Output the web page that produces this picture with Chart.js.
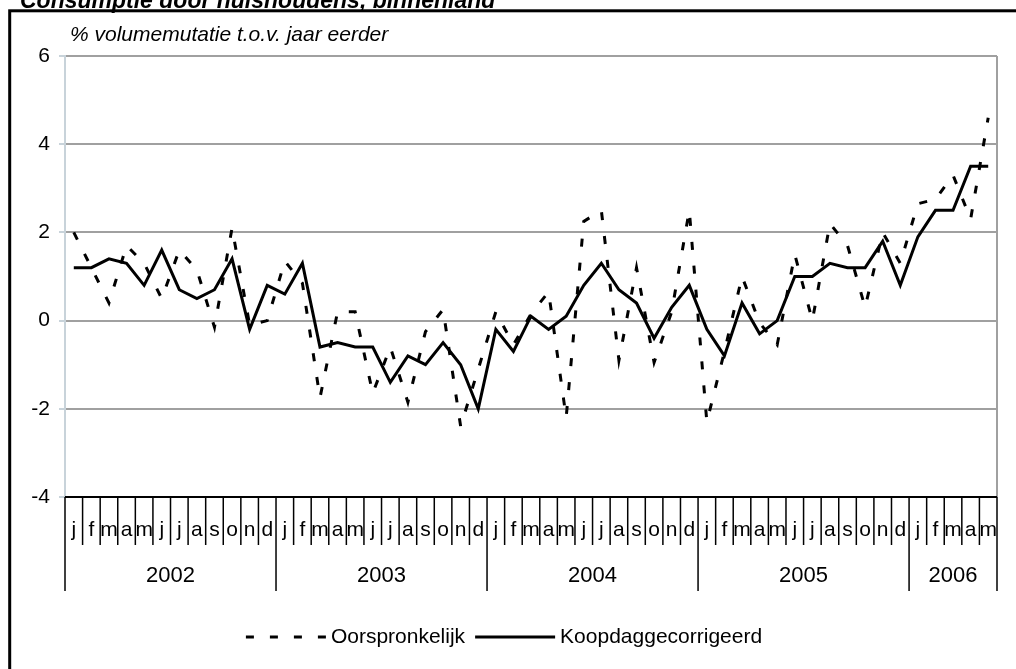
<!DOCTYPE html>
<html>
<head>
<meta charset="utf-8">
<script src="https://cdn.jsdelivr.net/npm/chart.js@4.4.1/dist/chart.umd.min.js"></script>
<style>
  html, body { margin: 0; padding: 0; background: #fff; }
  #wrap { width: 1016px; height: 669px; }
</style>
</head>
<body>
<div id="wrap"><canvas id="chart" width="1016" height="669"></canvas></div>
<script>
// data
const monthLetters = ['j','f','m','a','m','j','j','a','s','o','n','d'];
const years = ['2002','2003','2004','2005','2006'];
const monthsPerYear = [12, 12, 12, 12, 5];

const oorspronkelijk = [
  2.0, 1.2, 0.4, 1.7, 1.3, 0.5, 1.6, 1.15, -0.15, 2.1, -0.1, 0.0,
  1.35, 0.85, -1.75, 0.2, 0.2, -1.65, -0.6, -1.85, -0.25, 0.25, -2.4, -1.1,
  0.2, -0.55, 0.15, 0.65, -2.2, 2.25, 2.5, -0.9, 1.2, -0.95, 0.2, 2.5,
  -2.3, -0.7, 1.0, -0.05, -0.55, 1.5, 0.0, 2.2, 1.7, 0.3, 2.0, 1.3,
  2.65, 2.75, 3.3, 2.3, 4.6
];
const koopdaggecorrigeerd = [
  1.2, 1.2, 1.4, 1.3, 0.8, 1.6, 0.7, 0.5, 0.7, 1.4, -0.2, 0.8,
  0.6, 1.3, -0.6, -0.5, -0.6, -0.6, -1.4, -0.8, -1.0, -0.5, -1.0, -2.0,
  -0.2, -0.7, 0.1, -0.2, 0.1, 0.8, 1.3, 0.7, 0.4, -0.4, 0.3, 0.8,
  -0.2, -0.8, 0.4, -0.3, 0.0, 1.0, 1.0, 1.3, 1.2, 1.2, 1.8, 0.8,
  1.9, 2.5, 2.5, 3.5, 3.5
];
const yTicks = [-4, -2, 0, 2, 4, 6];

const title = 'Consumptie door huishoudens, binnenland';
const subtitle = '% volumemutatie t.o.v. jaar eerder';

const labels = [];
years.forEach((y, k) => { for (let m = 0; m < monthsPerYear[k]; m++) labels.push(monthLetters[m]); });

const FONT = 'Arial, "Liberation Sans", sans-serif';
const DASH = [8, 16];

const decor = {
  id: 'decor',
  beforeDatasetsDraw(chart) {
    const {ctx, chartArea: a, scales: {x, y}} = chart;
    const seg = (x1, y1, x2, y2) => { ctx.beginPath(); ctx.moveTo(x1, y1); ctx.lineTo(x2, y2); ctx.stroke(); };
    ctx.save();
    // right edge of the plot
    ctx.strokeStyle = '#a0a0a0'; ctx.lineWidth = 2;
    seg(a.right, a.top, a.right, a.bottom);

    // category axis with month and year boxes
    const y0 = y.getPixelForValue(yTicks[0]);
    const edge = i => i <= 0 ? a.left : i >= labels.length ? a.right
      : (x.getPixelForValue(i - 1) + x.getPixelForValue(i)) / 2;
    ctx.strokeStyle = '#000'; ctx.lineWidth = 2;
    seg(a.left, y0, a.right, y0);
    ctx.lineWidth = 1.5;
    const yearStarts = [0];
    monthsPerYear.forEach((n, k) => yearStarts.push(yearStarts[k] + n));
    for (let i = 0; i <= labels.length; i++) {
      const isYear = yearStarts.includes(i);
      seg(edge(i), y0, edge(i), y0 + (isYear ? 94 : 48));
    }
    ctx.fillStyle = '#000';
    ctx.textAlign = 'center'; ctx.textBaseline = 'alphabetic';
    ctx.font = '21px ' + FONT;
    labels.forEach((l, i) => ctx.fillText(l, x.getPixelForValue(i), y0 + 39));
    ctx.font = '22px ' + FONT;
    years.forEach((yr, k) => {
      const cx = (edge(yearStarts[k]) + edge(yearStarts[k + 1])) / 2;
      ctx.fillText(yr, cx, y0 + 85);
    });
    ctx.restore();
  },
  afterDraw(chart) {
    const {ctx} = chart;
    ctx.save();
    // outer frame
    ctx.strokeStyle = '#000'; ctx.lineWidth = 3;
    ctx.strokeRect(9.7, 10.8, 2000, 2000);
    // title, cut off at the top
    ctx.fillStyle = '#000';
    ctx.textAlign = 'left'; ctx.textBaseline = 'alphabetic';
    ctx.font = 'italic bold 23px ' + FONT;
    ctx.fillText(title, 20, 8);
    ctx.font = 'italic 21px ' + FONT;
    ctx.fillText(subtitle, 70, 41);

    // legend
    const ly = 637, lineLen = 80;
    ctx.font = '21px ' + FONT;
    ctx.textBaseline = 'middle';
    const items = chart.data.datasets;
    const w = items.map(d => ctx.measureText(d.label).width);
    const total = lineLen * 2 + 5 + w[0] + 10 + 5 + w[1];
    let lx = 504 - total / 2;
    items.forEach((d, k) => {
      ctx.strokeStyle = d.borderColor; ctx.lineWidth = d.borderWidth;
      ctx.setLineDash(d.borderDash || []);
      ctx.beginPath(); ctx.moveTo(lx, ly); ctx.lineTo(lx + lineLen, ly); ctx.stroke();
      ctx.setLineDash([]);
      ctx.fillText(d.label, lx + lineLen + 5, ly);
      lx += lineLen + 5 + w[k] + 10;
    });
    ctx.restore();
  }
};

new Chart(document.getElementById('chart'), {
  type: 'line',
  data: {
    labels,
    datasets: [
      { label: 'Oorspronkelijk', data: oorspronkelijk, borderColor: '#000', borderWidth: 3,
        borderDash: DASH, pointRadius: 0, tension: 0, fill: false },
      { label: 'Koopdaggecorrigeerd', data: koopdaggecorrigeerd, borderColor: '#000', borderWidth: 3,
        pointRadius: 0, tension: 0, fill: false }
    ]
  },
  options: {
    responsive: false,
    devicePixelRatio: 1,
    animation: false,
    layout: { padding: { top: 56, right: 19, bottom: 172, left: 0 } },
    plugins: { legend: { display: false }, tooltip: { enabled: false } },
    scales: {
      x: { display: false, offset: true },
      y: {
        min: yTicks[0], max: yTicks[yTicks.length - 1],
        afterFit: s => { s.width = 65; },
        afterBuildTicks: s => { s.ticks = yTicks.map(v => ({ value: v })); },
        ticks: { color: '#000', font: { size: 21, family: FONT }, padding: 9 },
        grid: {
          color: c => c.tick && c.tick.value === yTicks[0] ? 'rgba(0,0,0,0)' : '#a0a0a0',
          lineWidth: 2, tickLength: 6, tickColor: '#c8d3da'
        },
        border: { color: '#c8d3da', width: 2 }
      }
    }
  },
  plugins: [decor]
});
</script>
</body>
</html>
